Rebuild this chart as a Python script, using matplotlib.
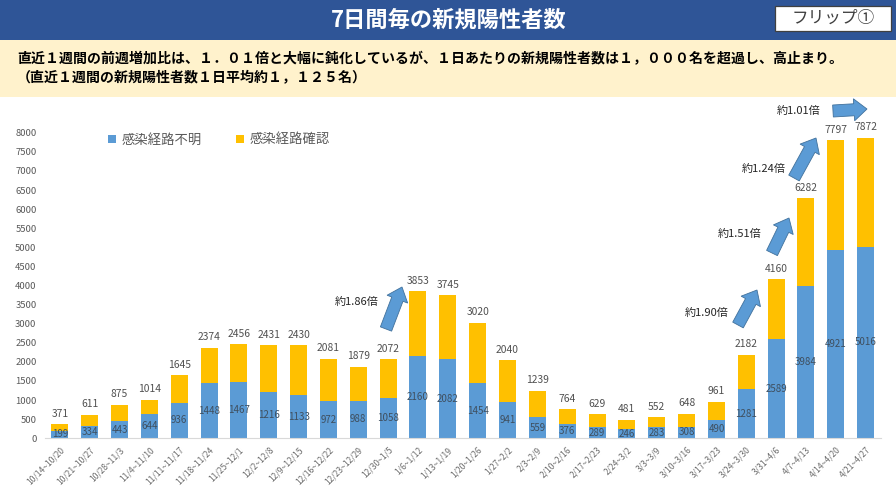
import matplotlib
matplotlib.use("Agg")
import matplotlib.pyplot as plt
from matplotlib.patches import FancyArrow, Rectangle

plt.rcParams["font.family"] = ["Noto Sans CJK JP", "DejaVu Sans"]

WEEKS = [
    "10/14~10/20", "10/21~10/27", "10/28~11/3", "11/4~11/10", "11/11~11/17",
    "11/18~11/24", "11/25~12/1", "12/2~12/8", "12/9~12/15", "12/16~12/22",
    "12/23~12/29", "12/30~1/5", "1/6~1/12", "1/13~1/19", "1/20~1/26",
    "1/27~2/2", "2/3~2/9", "2/10~2/16", "2/17~2/23", "2/24~3/2",
    "3/3~3/9", "3/10~3/16", "3/17~3/23", "3/24~3/30", "3/31~4/6",
    "4/7~4/13", "4/14~4/20", "4/21~4/27",
]
UNKNOWN = [199, 334, 443, 644, 936, 1448, 1467, 1216, 1133, 972, 988, 1058, 2160, 2082,
           1454, 941, 559, 376, 289, 246, 283, 308, 490, 1281, 2589, 3984, 4921, 5016]
TOTAL = [371, 611, 875, 1014, 1645, 2374, 2456, 2431, 2430, 2081, 1879, 2072, 3853, 3745,
         3020, 2040, 1239, 764, 629, 481, 552, 648, 961, 2182, 4160, 6282, 7797, 7872]
YTICKS = list(range(0, 8001, 500))

BLUE = "#5B9BD5"
YELLOW = "#FFC000"
W, H = 896, 504

KNOWN = [t - u for t, u in zip(TOTAL, UNKNOWN)]

fig = plt.figure(figsize=(W / 100, H / 100), dpi=100)

# pixel coords of the plot area
ax = fig.add_axes([44.9 / W, 1 - 438.3 / H, (880.6 - 44.9) / W, (438.3 - 132.7) / H])
idx = list(range(len(WEEKS)))
b1 = ax.bar(idx, UNKNOWN, 0.57, color=BLUE, label="感染経路不明")
b2 = ax.bar(idx, KNOWN, 0.57, bottom=UNKNOWN, color=YELLOW, label="感染経路確認")

for i in idx:
    ax.text(i, UNKNOWN[i] / 2, str(UNKNOWN[i]), ha="center", va="center", fontsize=7, color="#3F4F5F")
    ax.annotate(str(TOTAL[i]), (i, TOTAL[i]), xytext=(0, 4), textcoords="offset points",
                ha="center", va="bottom", fontsize=7.4, color="#505050")

ax.set_xlim(-0.5, len(WEEKS) - 0.5)
ax.set_ylim(0, 8000)
ax.set_yticks(YTICKS)
ax.set_xticks(idx)
ax.set_xticklabels(WEEKS, rotation=45, ha="right", va="top", rotation_mode="anchor", fontsize=6.1, color="#6B6B6B")
ax.tick_params(axis="both", length=0)
ax.tick_params(axis="y", labelsize=6.8, labelcolor="#595959", pad=6)
ax.tick_params(axis="x", pad=5)
for s in ["top", "left", "right"]:
    ax.spines[s].set_visible(False)
ax.spines["bottom"].set_color("#D9D9D9")

ax.legend(loc="upper left", bbox_to_anchor=(0.061, 1.04), ncol=2, frameon=False, fontsize=9.6,
          labelcolor="#595959", handlelength=0.6, handleheight=0.6, handletextpad=0.4, columnspacing=2.6)

# header and call-outs are placed in image pixels
over = fig.add_axes([0, 0, 1, 1], zorder=5)
over.set_xlim(0, W)
over.set_ylim(H, 0)
over.axis("off")
over.patch.set_alpha(0)

over.add_patch(Rectangle((0, 0), W, 40, color="#2F5597", lw=0))
over.add_patch(Rectangle((0, 40), W, 57, color="#FFF2CC", lw=0))
over.add_patch(Rectangle((775, 6), 116, 25, fc="white", ec="#404040", lw=0.9))
over.text(449, 20, "7日間毎の新規陽性者数", color="white", fontsize=16, fontweight="bold", ha="center", va="center")
over.text(833, 18.5, "フリップ①", color="#404040", fontsize=12, ha="center", va="center")
over.text(17, 59, "直近１週間の前週増加比は、１．０１倍と大幅に鈍化しているが、１日あたりの新規陽性者数は１，０００名を超過し、高止まり。",
          color="black", fontsize=10.05, fontweight="bold", ha="left", va="center")
over.text(17, 78, "（直近１週間の新規陽性者数１日平均約１，１２５名）",
          color="black", fontsize=10.05, fontweight="bold", ha="left", va="center")

CALLOUTS = [
    ("約1.86倍", 357, 302, 386, 329, 402, 287),
    ("約1.90倍", 707, 313, 738, 325, 757, 290),
    ("約1.51倍", 740, 234, 772, 253, 789, 218),
    ("約1.24倍", 764, 169, 794, 178, 816, 138),
    ("約1.01倍", 799, 111, 833, 111, 867, 109),
]
for label, tx, ty, x0, y0, x1, y1 in CALLOUTS:
    over.text(tx, ty, label, fontsize=8, color="#262626", ha="center", va="center")
    over.add_patch(FancyArrow(x0, y0, x1 - x0, y1 - y0, width=12, head_width=22, head_length=13,
                              length_includes_head=True, fc=BLUE, ec="#41719C", lw=0.6))

fig.savefig("out.png", dpi=100)
